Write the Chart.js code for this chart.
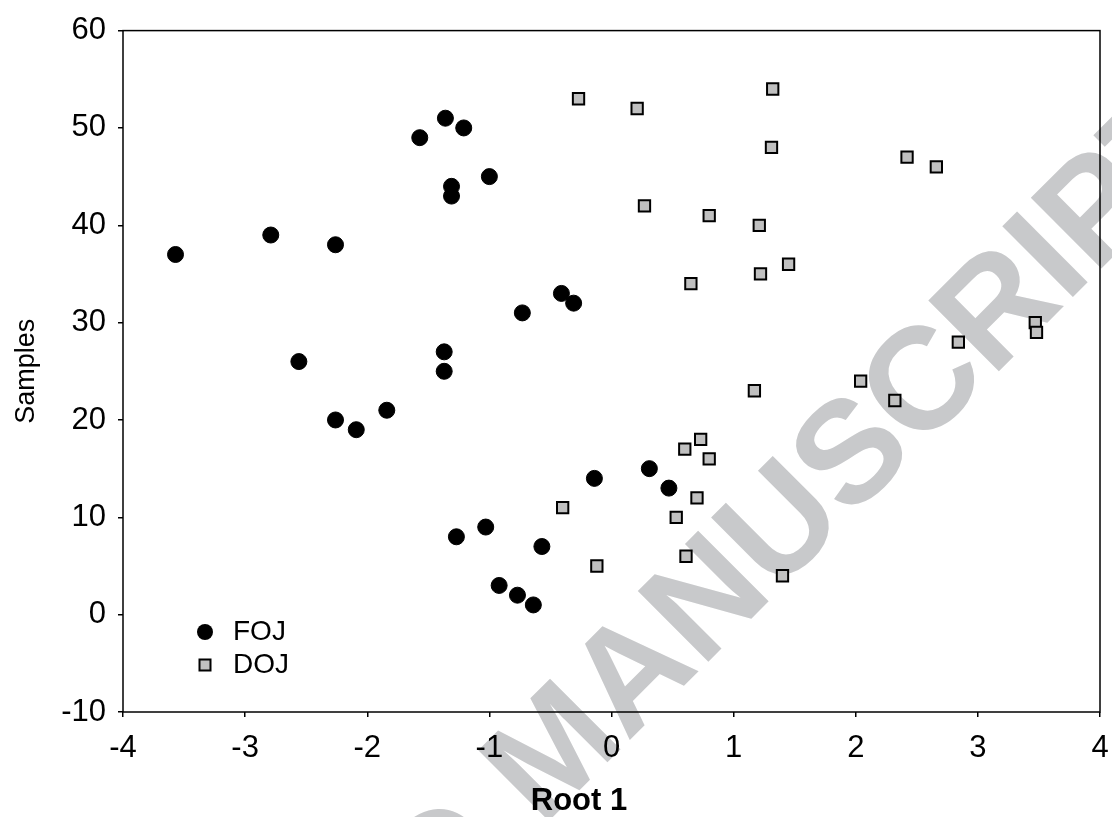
<!DOCTYPE html>
<html lang="en">
<head>
    <meta charset="UTF-8">
    <title>Root 1 vs Samples</title>
    <script src="https://cdn.jsdelivr.net/npm/chart.js"></script>
    <style>
        body { margin: 0; background: #fff; }
    </style>
</head>
<body>
    <canvas id="scatter" width="1112" height="817"></canvas>

    <script>
        // FOJ samples (black circles)
        const fojRoot = [-3.57, -2.79, -2.26, -1.57, -1.36, -1.21, -1.31, -1.31, -1.00, -2.56, -2.26, -2.09, -1.84, -1.37,
                         -1.37, -1.27, -1.03, -0.57, -0.92, -0.77, -0.64, -0.14, -0.73, -0.41, -0.31, 0.31, 0.47];
        const fojSample = [37, 39, 38, 49, 51, 50, 44, 43, 45, 26, 20, 19, 21, 27,
                           25, 8, 9, 7, 3, 2, 1, 14, 31, 33, 32, 15, 13];

        // DOJ samples (grey squares)
        const dojRoot = [-0.27, 0.21, 1.32, 1.31, 2.42, 2.66, 0.27, 0.80, 1.21, 1.22, 1.45, 0.65, 3.47, 3.48,
                         2.84, 2.04, 2.32, 1.17, 0.73, 0.60, 0.80, 0.70, -0.40, 0.53, 0.61, -0.12, 1.40];
        const dojSample = [53, 52, 54, 48, 47, 46, 42, 41, 40, 35, 36, 34, 30, 29,
                           28, 24, 22, 23, 18, 17, 16, 12, 11, 10, 6, 5, 4];

        const xTicks = [-4, -3, -2, -1, 0, 1, 2, 3, 4];
        const yTicks = [-10, 0, 10, 20, 30, 40, 50, 60];

        const FONT = '"Liberation Sans", Arial, sans-serif';
        const GREY = '#c0c0c0';

        function toPoints(xs, ys) {
            return xs.map((x, i) => ({ x: x, y: ys[i] }));
        }

        // big grey watermark behind everything
        const watermark = {
            id: 'watermark',
            beforeDraw(chart) {
                const ctx = chart.ctx;
                const size = 145;
                ctx.save();
                ctx.font = 'bold ' + size + 'px ' + FONT;
                ctx.fillStyle = '#c8c9cb';
                ctx.textBaseline = 'alphabetic';
                // centre of the "C" of MANUSCRIPT
                ctx.translate(918, 378);
                ctx.rotate(-Math.PI / 4);
                const before = ctx.measureText('ACCEPTED MANUS').width + ctx.measureText('C').width / 2;
                ctx.fillText('ACCEPTED MANUSCRIPT', -before, size * 0.36);
                ctx.restore();
            }
        };

        // frame, legend and x title
        const decorations = {
            id: 'decorations',
            afterDraw(chart) {
                const ctx = chart.ctx;
                const a = chart.chartArea;
                ctx.save();
                ctx.strokeStyle = '#000';
                ctx.lineWidth = 1.5;
                ctx.strokeRect(a.left, a.top, a.right - a.left, a.bottom - a.top);

                // legend
                ctx.fillStyle = '#000';
                ctx.beginPath();
                ctx.arc(205, 632, 8, 0, Math.PI * 2);
                ctx.fill();
                ctx.fillStyle = GREY;
                ctx.fillRect(199.5, 659.5, 11, 11);
                ctx.lineWidth = 2;
                ctx.strokeRect(199.5, 659.5, 11, 11);

                ctx.fillStyle = '#000';
                ctx.font = '28px ' + FONT;
                ctx.textAlign = 'left';
                ctx.textBaseline = 'middle';
                ctx.fillText('FOJ', 233, 632);
                ctx.fillText('DOJ', 233, 665);

                ctx.font = 'bold 31px ' + FONT;
                ctx.textAlign = 'center';
                ctx.textBaseline = 'alphabetic';
                ctx.fillText('Root 1', 579, 810);
                ctx.restore();
            }
        };

        const ctx = document.getElementById('scatter').getContext('2d');
        const chart = new Chart(ctx, {
            type: 'scatter',
            data: {
                datasets: [{
                    label: 'FOJ',
                    data: toPoints(fojRoot, fojSample),
                    pointStyle: 'circle',
                    pointRadius: 8,
                    backgroundColor: '#000',
                    borderColor: '#000',
                    borderWidth: 1
                }, {
                    label: 'DOJ',
                    data: toPoints(dojRoot, dojSample),
                    pointStyle: 'rect',
                    pointRadius: 8,
                    backgroundColor: GREY,
                    borderColor: '#000',
                    borderWidth: 2
                }]
            },
            options: {
                responsive: false,
                animation: false,
                layout: { padding: { top: 30, right: 12, left: 0, bottom: 0 } },
                plugins: {
                    legend: { display: false },
                    tooltip: { enabled: false }
                },
                scales: {
                    x: {
                        type: 'linear',
                        min: -4,
                        max: 4,
                        afterBuildTicks: s => { s.ticks = xTicks.map(v => ({ value: v })); },
                        afterFit: s => { s.height = 105; s.paddingLeft = 0; s.paddingRight = 0; },
                        border: { display: false },
                        grid: { drawOnChartArea: false, drawTicks: true, tickLength: 5, color: '#000', lineWidth: 1.5 },
                        ticks: { color: '#000', font: { family: FONT, size: 31 }, padding: 13, maxRotation: 0 }
                    },
                    y: {
                        type: 'linear',
                        min: -10,
                        max: 60,
                        afterBuildTicks: s => { s.ticks = yTicks.map(v => ({ value: v })); },
                        afterFit: s => { s.width = 123; },
                        border: { display: false },
                        grid: { drawOnChartArea: false, drawTicks: true, tickLength: 5, color: '#000', lineWidth: 1.5 },
                        ticks: { color: '#000', font: { family: FONT, size: 31 }, padding: 12 },
                        title: {
                            display: true,
                            text: 'Samples',
                            color: '#000',
                            font: { family: FONT, size: 27 },
                            padding: { top: 10, bottom: 0 }
                        }
                    }
                }
            },
            plugins: [watermark, decorations]
        });
    </script>
</body>
</html>
